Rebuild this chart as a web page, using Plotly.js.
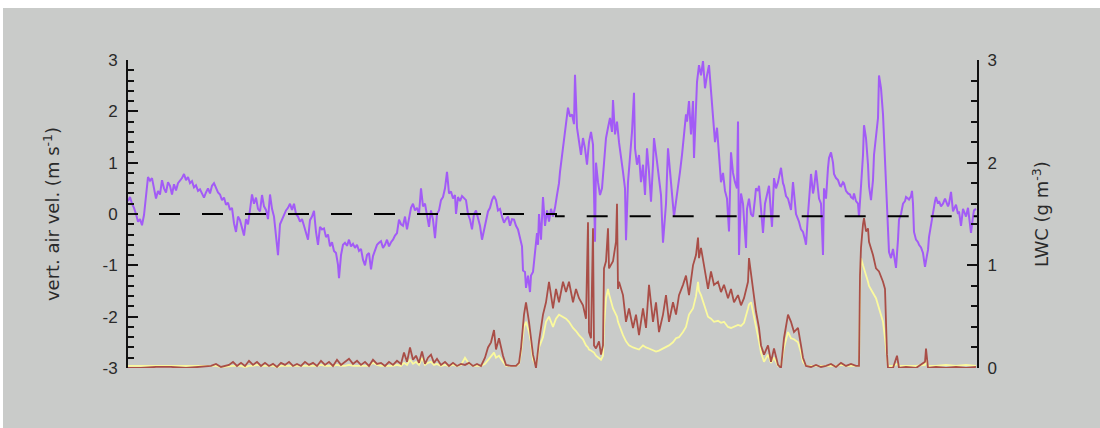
<!DOCTYPE html>
<html>
<head>
<meta charset="utf-8">
<script src="https://cdn.plot.ly/plotly-3.0.1.min.js"></script>
<style>
  html, body { margin: 0; padding: 0; background: #ffffff; width: 1100px; height: 428px; overflow: hidden; }
  #chart { position: absolute; left: 3px; top: 8px; width: 1097px; height: 420px; }
</style>
</head>
<body>
<div id="chart"></div>
<script>
// ---- Data (time index) ----
const tVel = [127,129,131,133,135,137,139,141,143,145,147,149,151,153,155,157,159,161,163,165,167,169,171,173,175,177,179,181,183,185,187,189,191,193,195,197,199,201,203,205,207,209,211,213,215,217,219,221,223,225,227,229,231,233,235,237,239,241,243,245,247,249,251,253,255,257,259,261,263,265,267,269,271,273,275,277,279,281,283,285,287,289,291,293,295,297,299,301,303,305,307,309,311,313,315,317,319,321,323,325,327,329,331,333,335,337,338,340,342,344,346,348,350,352,354,356,358,360,362,364,366,368,370,372,374,376,378,380,382,384,386,388,390,392,394,396,398,400,402,404,406,408,410,412,414,416,418,420,422,424,426,428,430,432,434,436,438,440,442,444,446,448,450,452,454,455,457,459,461,463,465,467,469,471,473,475,477,479,481,483,485,487,489,491,493,495,497,499,501,503,505,507,509,511,513,515,517,519,521,522,524,525,527,529,530,532,534,536,537,538,540,542,544,546,548,550,552,554,556,558,559,561,563,565,567,569,571,573,574,576,578,580,582,584,586,588,590,592,594,595,597,599,601,603,605,607,609,611,612,614,616,618,620,622,624,625,627,629,631,633,634,636,638,640,642,644,646,648,650,652,653,656,658,660,662,664,665,667,669,671,673,675,677,679,681,683,685,686,688,690,692,693,695,696,698,700,702,704,706,708,710,712,714,716,718,720,722,724,726,728,730,732,734,736,737,738,740,742,743,745,746,748,750,752,754,755,757,758,760,762,764,766,768,770,771,773,775,777,779,780,782,783,785,787,789,790,792,794,795,797,798,800,802,804,805,807,808,810,812,813,815,817,818,820,822,823,825,827,828,830,832,833,835,837,839,840,842,843,845,847,849,850,852,853,855,857,858,860,862,863,865,867,868,870,872,873,875,877,878,880,882,883,885,887,888,890,892,893,895,897,898,900,902,904,905,907,908,910,911,912,913,915,917,918,920,922,924,926,927,928,930,932,934,935,937,938,940,942,944,945,947,948,950,952,954,955,957,958,960,962,964,965,967,969,970,972,973,975];
const vertAirVel = [0.25,0.33,0.2,0.12,0.0,-0.15,-0.1,-0.22,-0.02,0.3,0.72,0.65,0.7,0.5,0.3,0.45,0.38,0.66,0.5,0.42,0.62,0.55,0.38,0.58,0.46,0.6,0.65,0.7,0.78,0.66,0.72,0.6,0.64,0.52,0.56,0.45,0.48,0.38,0.32,0.42,0.5,0.4,0.55,0.6,0.5,0.42,0.38,0.27,0.32,0.18,0.22,0.08,0.12,-0.18,-0.35,-0.05,-0.12,-0.25,-0.42,-0.1,-0.2,0.08,0.38,0.2,0.32,0.1,0.05,0.37,0.15,0.08,-0.1,0.38,0.1,-0.05,-0.5,-0.8,-0.2,-0.1,0.0,0.07,0.12,0.2,0.08,0.2,0.0,-0.05,-0.15,-0.1,-0.23,-0.35,-0.5,-0.12,-0.05,0.06,-0.35,-0.6,-0.25,-0.3,-0.28,-0.45,-0.4,-0.63,-0.55,-0.72,-0.76,-0.99,-1.25,-0.8,-0.6,-0.56,-0.62,-0.5,-0.63,-0.58,-0.66,-0.6,-0.72,-0.68,-0.89,-1.0,-0.8,-0.76,-1.08,-0.82,-0.7,-0.6,-0.56,-0.53,-0.66,-0.6,-0.5,-0.63,-0.55,-0.5,-0.42,-0.37,-0.11,-0.2,-0.23,-0.05,-0.3,-0.05,0.12,0.2,0.07,0.12,0.0,0.5,0.15,0.2,-0.05,-0.25,0.07,-0.11,-0.47,0.0,0.07,0.27,0.33,0.5,0.82,0.4,0.44,0.3,0.37,0.0,0.33,0.25,0.35,0.3,0.27,0.0,-0.11,-0.3,0.0,0.07,-0.1,-0.23,-0.5,-0.3,-0.11,0.05,0.12,0.27,0.35,0.27,0.07,0.1,-0.05,-0.17,-0.1,-0.05,-0.23,-0.1,-0.11,-0.23,-0.3,-0.5,-0.63,-1.1,-1.13,-1.44,-1.2,-1.52,-1.2,-1.13,-0.76,-0.37,-0.6,0.0,-0.5,0.33,-0.23,0.07,-0.15,0.1,-0.05,0.12,0.37,0.6,0.82,1.15,1.48,1.8,2.07,1.9,1.94,1.75,2.71,1.68,1.4,1.15,1.48,1.28,0.96,1.4,1.6,1.35,-0.54,1.0,0.62,0.37,0.5,1.02,1.48,1.68,1.87,1.6,2.22,1.55,1.8,1.4,1.15,0.82,0.5,-0.51,0.62,1.15,1.6,2.36,1.28,0.96,1.15,0.62,0.96,0.37,1.28,0.82,0.24,0.96,1.48,1.02,0.62,0.37,-0.56,0.0,0.2,1.28,0.82,0.5,-0.05,0.24,0.5,0.82,1.15,1.6,1.94,1.8,2.2,1.55,2.2,1.09,1.9,2.57,2.9,2.7,2.98,2.45,2.7,2.9,2.4,1.8,1.4,1.68,1.15,0.62,0.8,0.45,0.3,-0.34,1.2,0.8,0.62,0.5,1.8,-0.8,0.4,0.2,-0.1,-0.66,0.1,0.3,0.0,-0.05,0.3,0.5,0.45,0.55,0.1,-0.37,0.2,0.4,0.55,0.0,-0.25,0.7,0.5,0.62,0.8,0.9,0.6,0.55,0.35,0.3,0.15,0.08,0.62,0.2,0.0,-0.1,-0.15,-0.3,-0.35,-0.5,-0.6,0.0,0.3,0.78,0.4,0.5,0.85,0.4,0.3,0.2,-0.8,0.5,0.3,0.9,1.09,1.2,1.0,0.78,0.7,0.66,0.55,0.54,0.62,0.6,0.45,0.4,0.38,0.33,0.3,0.4,0.25,0.2,-0.05,0.54,1.15,1.73,1.48,0.96,0.54,0.27,0.66,1.15,1.48,1.87,2.7,2.45,1.94,1.48,0.66,-0.11,-0.74,-0.86,-0.68,-0.8,-1.05,-0.5,-0.11,0.0,0.2,0.25,0.33,0.3,0.28,0.35,0.45,0.2,-0.35,-0.5,-0.55,-0.6,-0.65,-0.76,-1.03,-0.8,-0.7,-0.45,-0.2,0.07,0.25,0.33,0.2,0.25,0.15,0.2,0.3,0.25,0.15,0.2,0.43,0.05,0.15,0.18,0.0,0.05,-0.23,0.1,0.0,-0.05,0.12,-0.2,-0.37,-0.05,0.07,0.1];

const tLwc = [127,140,155,170,185,200,210,215,220,228,232,236,240,244,248,252,256,260,264,268,272,276,280,284,288,292,296,300,304,308,312,316,320,324,328,332,336,340,344,348,352,356,360,364,368,372,376,380,384,388,392,396,400,403,406,409,412,415,418,421,424,427,430,433,436,440,444,448,452,456,460,464,468,472,476,480,484,487,490,493,495,498,502,505,510,515,518,520,523,525,528,530,532,535,538,542,545,548,552,555,558,562,565,568,572,575,578,582,585,587,588,590,592,593,595,598,600,602,603,605,607,608,612,615,616,617,618,622,625,628,632,635,638,642,645,648,652,655,658,662,665,668,672,675,678,682,685,688,692,695,697,698,700,703,707,710,713,717,720,723,727,730,733,737,740,743,747,748,750,752,755,758,760,763,767,770,773,777,780,783,787,790,793,797,800,802,805,810,815,820,825,830,835,840,845,850,855,858,859,860,862,863,865,867,868,870,872,875,878,882,884,886,887,892,896,898,905,915,924,925,927,935,945,955,965,975];
const lwcA = [0.0,0.0,0.01,0.01,0.0,0.01,0.02,0.04,0.01,0.03,0.06,0.02,0.05,0.02,0.07,0.03,0.06,0.02,0.05,0.02,0.04,0.01,0.05,0.03,0.06,0.02,0.04,0.02,0.06,0.03,0.05,0.02,0.07,0.03,0.06,0.02,0.08,0.03,0.06,0.09,0.04,0.07,0.03,0.06,0.02,0.08,0.04,0.05,0.02,0.06,0.03,0.07,0.04,0.15,0.06,0.2,0.08,0.12,0.05,0.16,0.04,0.1,0.13,0.05,0.09,0.03,0.06,0.02,0.05,0.02,0.04,0.03,0.05,0.02,0.04,0.02,0.1,0.2,0.25,0.37,0.18,0.29,0.12,0.03,0.02,0.02,0.05,0.19,0.52,0.64,0.45,0.3,0.13,0.0,0.26,0.52,0.64,0.84,0.58,0.77,0.64,0.84,0.74,0.84,0.64,0.77,0.68,0.61,0.48,1.42,0.35,0.29,1.36,0.22,0.19,0.26,0.13,0.22,0.97,1.04,1.36,0.97,1.04,1.23,1.6,0.77,0.84,0.71,0.45,0.58,0.39,0.52,0.32,0.58,0.39,0.81,0.45,0.64,0.35,0.52,0.71,0.45,0.64,0.52,0.71,0.81,0.9,0.71,1.0,1.1,1.27,1.07,1.17,1.0,0.77,0.94,0.81,0.84,0.74,0.81,0.68,0.77,0.64,0.71,0.61,0.68,0.84,1.07,0.9,0.77,0.55,0.39,0.22,0.13,0.22,0.06,0.19,0.03,0.0,0.29,0.52,0.45,0.35,0.39,0.22,0.1,0.02,0.01,0.03,0.01,0.02,0.04,0.01,0.05,0.02,0.04,0.02,0.02,0.9,1.17,1.4,1.46,1.33,1.36,1.23,1.17,1.1,0.97,0.94,0.84,0.77,0.13,0.0,0.0,0.12,0.0,0.01,0.0,0.06,0.19,0.0,0.01,0.0,0.01,0.0,0.01];
const lwcB = [0.02,0.02,0.02,0.02,0.02,0.02,0.02,0.02,0.01,0.02,0.02,0.02,0.02,0.01,0.02,0.02,0.03,0.02,0.02,0.02,0.02,0.01,0.02,0.02,0.02,0.02,0.02,0.02,0.02,0.02,0.02,0.02,0.03,0.02,0.02,0.02,0.03,0.02,0.02,0.03,0.02,0.02,0.02,0.02,0.02,0.05,0.03,0.02,0.02,0.02,0.02,0.03,0.02,0.05,0.03,0.08,0.04,0.06,0.03,0.1,0.03,0.05,0.06,0.03,0.04,0.02,0.03,0.02,0.03,0.02,0.03,0.1,0.04,0.02,0.02,0.02,0.04,0.08,0.12,0.15,0.1,0.12,0.06,0.02,0.02,0.02,0.04,0.15,0.4,0.45,0.35,0.25,0.08,0.02,0.2,0.3,0.45,0.5,0.4,0.48,0.52,0.5,0.48,0.45,0.39,0.36,0.32,0.28,0.22,0.2,0.18,0.17,0.16,0.15,0.12,0.1,0.08,0.12,0.4,0.68,0.77,0.72,0.58,0.52,0.5,0.45,0.42,0.32,0.26,0.22,0.2,0.19,0.18,0.22,0.2,0.19,0.17,0.16,0.17,0.19,0.2,0.22,0.25,0.29,0.3,0.35,0.4,0.52,0.58,0.7,0.84,0.75,0.71,0.61,0.5,0.48,0.45,0.46,0.44,0.45,0.4,0.39,0.4,0.42,0.41,0.44,0.58,0.62,0.64,0.55,0.42,0.26,0.15,0.06,0.13,0.05,0.1,0.02,0.02,0.2,0.35,0.29,0.28,0.25,0.15,0.06,0.02,0.02,0.02,0.02,0.02,0.02,0.02,0.03,0.02,0.02,0.02,0.02,0.7,1.07,1.0,0.97,0.92,0.84,0.8,0.77,0.73,0.68,0.58,0.45,0.29,0.13,0.02,0.02,0.04,0.02,0.02,0.02,0.03,0.08,0.02,0.02,0.03,0.02,0.03,0.02];

const zeroX = [115, 555, 555, 977];
const zeroY = [0, 0, -0.045, -0.045];

const velTickVals = [-3, -2, -1, 0, 1, 2, 3];
const velTickText = ['-3', '-2', '-1', '0', '1', '2', '3'];
const lwcTickVals = [0, 1, 2, 3];
const lwcTickText = ['0', '1', '2', '3'];

const tickFont = { family: 'Liberation Sans Narrow, Liberation Sans, Arial, sans-serif', size: 17, color: '#2a2a2a' };
const titleFont = { family: 'DejaVu Sans, sans-serif', size: 18, color: '#2a2a2a' };

const traces = [
  { x: tLwc, y: lwcB, yaxis: 'y2', type: 'scatter', mode: 'lines',
    line: { color: '#fbfa9e', width: 1.8 }, hoverinfo: 'skip' },
  { x: tLwc, y: lwcA, yaxis: 'y2', type: 'scatter', mode: 'lines',
    line: { color: '#a94e47', width: 1.8 }, hoverinfo: 'skip' },
  { x: tVel, y: vertAirVel, yaxis: 'y', type: 'scatter', mode: 'lines',
    line: { color: '#a25bf6', width: 2 }, hoverinfo: 'skip' },
  { x: zeroX, y: zeroY, yaxis: 'y', type: 'scatter', mode: 'lines',
    line: { color: '#000000', width: 2, dash: '21px,22px' }, hoverinfo: 'skip' }
];

const axisCommon = {
  showgrid: false, zeroline: false, showline: true, linecolor: '#111', linewidth: 2,
  ticks: 'inside', ticklen: 10, tickwidth: 2, tickcolor: '#111',
  tickmode: 'array', tickfont: tickFont, fixedrange: true,
  minor: { tick0: 0, dtick: 0.2, ticks: 'inside', ticklen: 6, tickwidth: 2, tickcolor: '#111', showgrid: false }
};

const layout = {
  width: 1097, height: 420,
  paper_bgcolor: '#c9cbc9', plot_bgcolor: '#c9cbc9',
  margin: { l: 125, r: 123, t: 52, b: 60 },
  showlegend: false,
  xaxis: { visible: false, range: [127, 976], fixedrange: true },
  yaxis: Object.assign({}, axisCommon, {
    range: [-3, 3], tickvals: velTickVals, ticktext: velTickText,
    ticklabelstandoff: 5,
    title: { text: 'vert. air vel. (m s<sup>-1</sup>)', font: titleFont, standoff: 38 }
  }),
  yaxis2: Object.assign({}, axisCommon, {
    range: [0, 3], tickvals: lwcTickVals, ticktext: lwcTickText,
    overlaying: 'y', side: 'right', ticklabelstandoff: 5,
    title: { text: 'LWC (g m<sup>-3</sup>)', font: titleFont, standoff: 40 }
  })
};

Plotly.newPlot('chart', traces, layout, { displayModeBar: false, staticPlot: true });
</script>
</body>
</html>
